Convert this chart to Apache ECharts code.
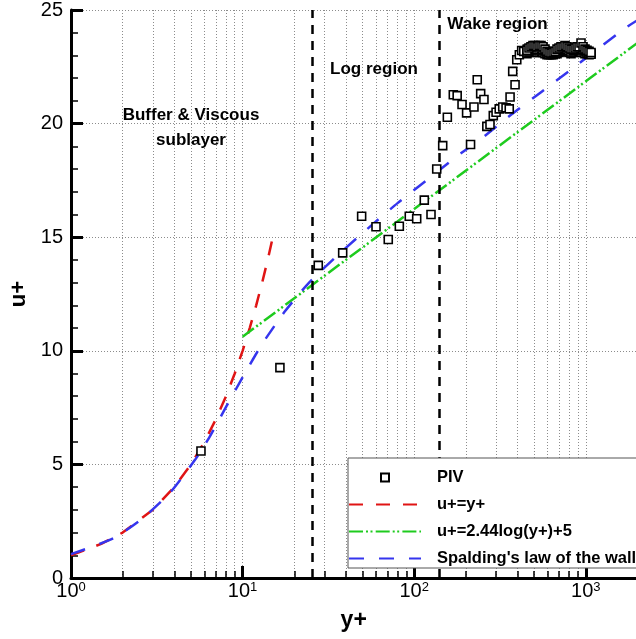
<!DOCTYPE html>
<html>
<head>
<meta charset="utf-8">
<script src="https://cdn.jsdelivr.net/npm/echarts@6/dist/echarts.min.js"></script>
<style>
  html, body { margin: 0; padding: 0; background: #fff; }
  #chart { width: 636px; height: 639px; }
</style>
</head>
<body>
<div id="chart"></div>
<script>
// ---- data -------------------------------------------------------------
// PIV measurements (y+, u+): scattered points below the wake plateau
const pivYPlus = [
  5.72, 16.5, 27.6, 38.3, 49.4, 59.9, 70.6, 81.9, 93.6, 103.4, 114.5, 125.3, 135.3, 146.6,
  156, 169, 178, 190, 202, 213, 223, 233, 244, 255, 265, 276.5, 289, 300, 313, 328, 343, 358,
  362, 375, 387, 396, 410, 423, 435, 456
];
const pivUPlus = [
  5.59, 9.26, 13.76, 14.31, 15.92, 15.46, 14.9, 15.48, 15.92, 15.81, 16.63, 16.0, 18.0, 19.03,
  20.28, 21.27, 21.23, 20.84, 20.47, 19.08, 20.73, 21.93, 21.32, 21.06, 19.88, 19.96, 20.35, 20.5, 20.65, 20.73, 20.69, 20.65,
  21.17, 22.3, 21.71, 22.81, 23.03, 23.22, 23.18, 23.28
];
// PIV measurements on the wake plateau: y+ stations with upper / middle / lower u+ readings
const plateauYPlus = [
  454.3, 466.7, 479.4, 492.4, 505.8, 519.6, 533.8, 548.3, 563.2, 578.5, 594.2,
  610.4, 627.0, 644.1, 661.6, 679.6, 698.1, 717.1, 736.6, 756.7, 777.3, 798.4,
  820.1, 842.5, 865.4, 888.9, 913.1, 937.9, 963.5, 989.3, 1016.2, 1043.9, 1072.2
];
const plateauUpper = [
  23.23, 23.33, 23.38, 23.43, 23.43, 23.38, 23.43, 23.43, 23.38, 23.28, 23.18,
  23.13, 23.10, 23.13, 23.18, 23.28, 23.33, 23.38, 23.38, 23.43, 23.38, 23.33,
  23.28, 23.28, 23.33, 23.38, 23.38, 23.55, 23.38, 23.28, 23.23, 23.18, 23.13
];
const plateauMiddle = [
  23.15, 23.20, 23.25, 23.30, 23.30, 23.25, 23.25, 23.30, 23.25, 23.20, 23.10,
  23.05, 23.05, 23.05, 23.10, 23.15, 23.20, 23.25, 23.30, 23.30, 23.25, 23.20,
  23.15, 23.20, 23.25, 23.25, 23.30, 23.30, 23.25, 23.20, 23.15, 23.10, 23.05
];
const plateauLower = [
  23.08, 23.13, 23.18, 23.18, 23.18, 23.13, 23.13, 23.18, 23.13, 23.08, 23.03,
  23.03, 23.03, 23.03, 23.08, 23.08, 23.13, 23.18, 23.18, 23.23, 23.18, 23.13,
  23.08, 23.13, 23.18, 23.18, 23.18, 23.13, 23.13, 23.08, 23.08, 23.03, 23.08
];

// viscous sublayer, u+ = y+
const linearYPlus = [1, 1.5, 2, 3, 4, 5, 6, 7, 8, 9, 10, 11, 12, 13, 14, 15];
const linearUPlus = [1, 1.5, 2, 3, 4, 5, 6, 7, 8, 9, 10, 11, 12, 13, 14, 15];

// log law, u+ = 2.44 log(y+) + 5
const logLawYPlus = [10, 30, 100, 300, 1000, 2000];
const logLawUPlus = [10.62, 13.3, 16.24, 18.92, 21.86, 23.55];

// Spalding's law of the wall
const spaldingYPlus = [1, 1.76, 2.58, 3.78, 5.28, 6.35, 8.04, 10.2, 13, 17.7, 24.4, 37, 54, 80, 118, 173, 252, 368, 541, 796, 1157, 1692, 2000];
const spaldingUPlus = [1.05, 1.74, 2.59, 3.76, 5.2, 6.15, 7.55, 8.95, 10.3, 11.75, 13.0, 14.3, 15.4, 16.5, 17.5, 18.5, 19.4, 20.4, 21.35, 22.3, 23.25, 24.2, 24.55];

// region boundaries (y+) and names
const regionBounds = [25.5, 139.5];
const regionNames = ['Buffer & Viscous\nsublayer', 'Log region', 'Wake region'];

// axes
const uPlusTicks = [0, 5, 10, 15, 20, 25];
const yPlusDecades = [1, 10, 100, 1000, 10000];

const seriesNames = ['PIV', 'u+=y+', 'u+=2.44log(y+)+5', "Spalding's law of the wall"];

// ---- chart ------------------------------------------------------------
const zip = (xs, ys) => xs.map((x, i) => [x, ys[i]]);
const pivPoints = zip(pivYPlus, pivUPlus)
  .concat(zip(plateauYPlus, plateauLower))
  .concat(zip(plateauYPlus, plateauMiddle))
  .concat(zip(plateauYPlus, plateauUpper));

const FONT = '"Liberation Sans", Arial, Helvetica, sans-serif';
const RED = '#e01414';
const GREEN = '#1ecb1e';
const BLUE = '#3535ee';
const GRID_DOT = { color: '#8c8c8c', width: 1, type: [1, 2] };
const ITEM_W = 72, ITEM_H = 8;
// small centred square inside the legend icon box
const squareIcon = 'path://M0,0M' + ITEM_W + ',' + ITEM_H + 'M' + (ITEM_W / 2 - 4) + ',0h8v8h-8z';
const hiddenMarker = { color: 'rgba(0,0,0,0)', borderWidth: 0, borderColor: 'rgba(0,0,0,0)' };

const chart = echarts.init(document.getElementById('chart'), null, { renderer: 'canvas' });

chart.setOption({
  animation: false,
  backgroundColor: '#fff',
  grid: { left: 71, top: 10, width: 686.4, height: 568, outerBoundsMode: 'none', containLabel: false },
  xAxis: {
    type: 'log',
    logBase: 10,
    min: yPlusDecades[0],
    max: yPlusDecades[yPlusDecades.length - 1],
    name: 'y+',
    nameLocation: 'middle',
    nameGap: 31,
    nameTextStyle: { fontFamily: FONT, fontSize: 23, fontWeight: 'bold', color: '#000', padding: [0, 121, 0, 0] },
    axisLine: { show: true, onZero: false, lineStyle: { color: '#000', width: 3 } },
    axisTick: { show: true, inside: true, length: 12, lineStyle: { color: '#000', width: 3 } },
    minorTick: { show: true, splitNumber: 9, length: 7, lineStyle: { color: '#000', width: 1.5 } },
    splitLine: { show: true, lineStyle: GRID_DOT },
    minorSplitLine: { show: true, lineStyle: GRID_DOT },
    axisLabel: {
      margin: 3,
      formatter: v => '{b|10}{s|' + Math.round(Math.log10(v)) + '}',
      rich: {
        b: { fontFamily: FONT, fontSize: 20, color: '#000' },
        s: { fontFamily: FONT, fontSize: 13, color: '#000', verticalAlign: 'top' }
      }
    }
  },
  yAxis: {
    type: 'value',
    min: uPlusTicks[0],
    max: uPlusTicks[uPlusTicks.length - 1],
    interval: uPlusTicks[1] - uPlusTicks[0],
    name: 'u+',
    nameLocation: 'middle',
    nameRotate: 90,
    nameGap: 41,
    nameTextStyle: { fontFamily: FONT, fontSize: 22, fontWeight: 'bold', color: '#000' },
    axisLine: { show: true, onZero: false, lineStyle: { color: '#000', width: 3 } },
    axisTick: { show: true, inside: true, length: 12, lineStyle: { color: '#000', width: 3 } },
    minorTick: { show: true, splitNumber: 5, length: 7, lineStyle: { color: '#000', width: 1.5 } },
    splitLine: { show: true, lineStyle: GRID_DOT },
    axisLabel: { fontFamily: FONT, fontSize: 20, color: '#000', margin: 8 }
  },
  legend: {
    orient: 'vertical',
    left: 348,
    top: 458,
    z: 20,
    data: [
      { name: seriesNames[0], icon: squareIcon },
      { name: seriesNames[1], itemStyle: hiddenMarker },
      { name: seriesNames[2], itemStyle: hiddenMarker },
      { name: seriesNames[3], itemStyle: hiddenMarker }
    ],
    selectedMode: false,
    itemWidth: ITEM_W,
    itemHeight: ITEM_H,
    itemGap: 10,
    padding: [11, 20, 1, 0],
    backgroundColor: '#fff',
    borderColor: '#555',
    borderWidth: 1,
    borderRadius: 0,
    textStyle: { fontFamily: FONT, fontSize: 16.5, fontWeight: 'bold', color: '#000', lineHeight: 14, padding: [0, 0, 0, 11] }
  },
  graphic: [
    { type: 'text', x: 191, y: 128, z: 10,
      style: { text: regionNames[0], font: 'bold 17px ' + FONT, fill: '#000', align: 'center', verticalAlign: 'middle', lineHeight: 25 } },
    { type: 'text', x: 374, y: 69, z: 10,
      style: { text: regionNames[1], font: 'bold 17px ' + FONT, fill: '#000', align: 'center', verticalAlign: 'middle' } },
    { type: 'text', x: 497.5, y: 24, z: 10,
      style: { text: regionNames[2], font: 'bold 17px ' + FONT, fill: '#000', align: 'center', verticalAlign: 'middle' } }
  ],
  series: [
    {
      name: 'regions',
      type: 'line',
      data: [],
      z: 3,
      markLine: {
        silent: true,
        symbol: 'none',
        label: { show: false },
        lineStyle: { color: '#000', width: 2.5, type: [9, 7] },
        data: regionBounds.map(v => ({ xAxis: v }))
      }
    },
    {
      name: seriesNames[1],
      type: 'line',
      data: zip(linearYPlus, linearUPlus),
      symbol: 'none',
      z: 3,
      lineStyle: { color: RED, width: 2.5, type: [14, 13] },
      itemStyle: { color: RED }
    },
    {
      name: seriesNames[2],
      type: 'line',
      data: zip(logLawYPlus, logLawUPlus),
      symbol: 'none',
      z: 3,
      lineStyle: { color: GREEN, width: 2.5, type: [14, 3, 2, 2.5, 2, 3.2] },
      itemStyle: { color: GREEN }
    },
    {
      name: seriesNames[3],
      type: 'line',
      data: zip(spaldingYPlus, spaldingUPlus),
      symbol: 'none',
      smooth: 0.2,
      z: 4,
      lineStyle: { color: BLUE, width: 2.5, type: [15, 15] },
      itemStyle: { color: BLUE }
    },
    {
      name: seriesNames[0],
      type: 'scatter',
      data: pivPoints,
      symbol: 'rect',
      symbolSize: 8,
      z: 5,
      itemStyle: { color: '#fff', borderColor: '#000', borderWidth: 1.6, opacity: 1 }
    }
  ]
});
</script>
</body>
</html>
